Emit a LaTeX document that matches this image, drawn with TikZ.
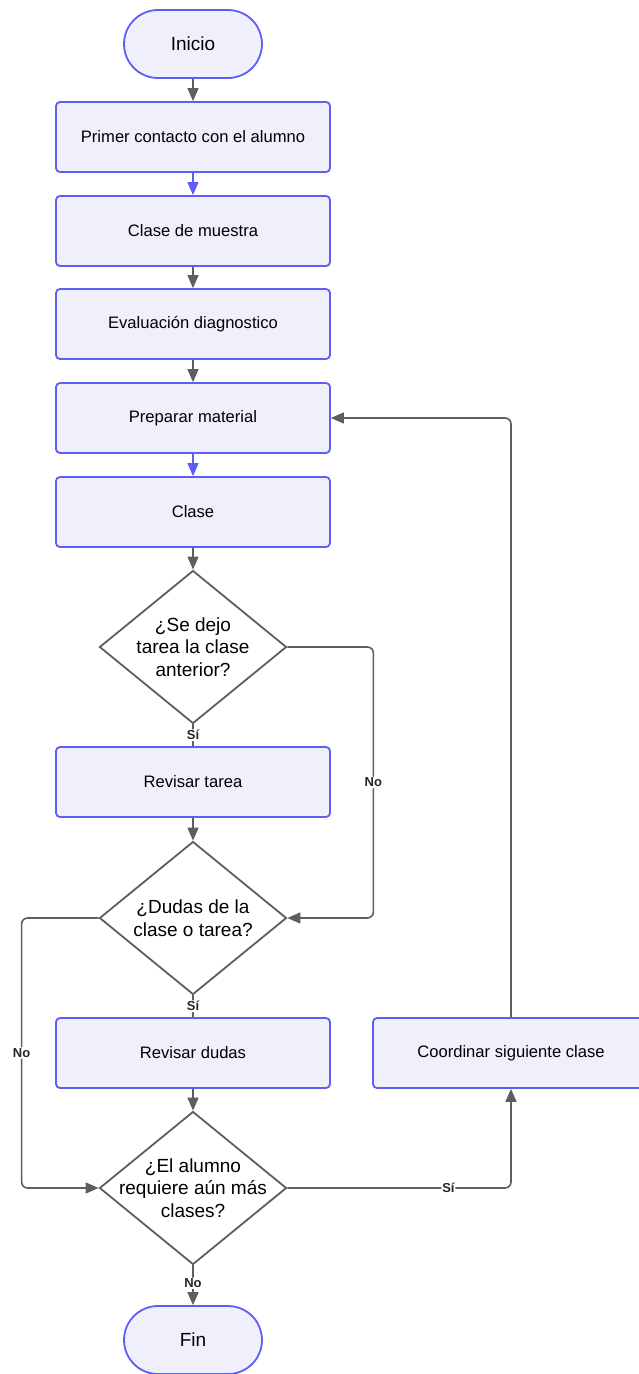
\documentclass[tikz,border=0pt]{standalone}
\usepackage{fontspec}
\setmainfont{Liberation Sans}
\usetikzlibrary{arrows.meta,shapes.geometric}
\definecolor{borde}{HTML}{5E5EF5}
\definecolor{relleno}{HTML}{F0F0FD}
\definecolor{linea}{HTML}{5E5E5E}
\tikzset{proceso/.style={rectangle,rounded corners=4pt,draw=borde,fill=relleno,line width=1.8pt,minimum width=274pt,minimum height=70pt,font=\fontsize{16.6}{20}\selectfont}}
\tikzset{termino/.style={rectangle,rounded corners=34pt,draw=borde,fill=relleno,line width=1.8pt,minimum width=138pt,minimum height=68pt,font=\fontsize{19}{22}\selectfont}}
\tikzset{decision/.style={diamond,draw=linea,fill=white,line width=1.8pt,minimum width=187pt,minimum height=153pt,inner sep=0pt}}
\tikzset{pregunta/.style={align=center,font=\fontsize{19}{22.5}\selectfont}}
\tikzset{flecha/.style={-{Triangle[length=13pt,width=11pt]},color=linea,line width=1.6pt,rounded corners=6pt}}
\tikzset{etiqueta/.style={fill=white,inner sep=1pt,font=\bfseries\fontsize{13}{15}\selectfont,text=black!85}}

\begin{document}
\begin{tikzpicture}[x=1pt,y=-1pt]
\useasboundingbox (0,0) rectangle (639,1374);
% \draw[help lines] (0,0) grid (639,1374);
\node (ini) [termino] at (193,44) {Inicio};
\node (cont) [proceso] at (193,137) {Primer contacto con el alumno};
\node (mues) [proceso] at (193,231) {Clase de muestra};
\node (eval) [proceso] at (193,324) {Evaluación diagnostico};
\node (prep) [proceso] at (193,418) {Preparar material};
\node (clase) [proceso] at (193,512) {Clase};
\node (tarea) [decision,label={[pregunta]center:¿Se dejo\\tarea la clase\\anterior?}] at (193,647) {};
\node (revt) [proceso] at (193,782) {Revisar tarea};
\node (dudas) [decision,label={[pregunta]center:¿Dudas de la\\clase o tarea?}] at (193,918) {};
\node (revd) [proceso] at (193,1053) {Revisar dudas};
\node (coord) [proceso,minimum width=276pt] at (511,1053) {Coordinar siguiente clase};
\node (mas) [decision,label={[pregunta]center:¿El alumno\\requiere aún más\\clases?}] at (193,1188) {};
\node (fin) [termino] at (193,1340) {Fin};
%
\path[flecha] (ini) edge (cont);
\path[flecha,color=borde] (cont) edge (mues);
\path[flecha] (mues) edge (eval);
\path[flecha] (eval) edge (prep);
\path[flecha,color=borde] (prep) edge (clase);
\path[flecha] (clase) edge (tarea);
\path[flecha,-] (tarea) edge node[etiqueta] {Sí} (revt);
\path[flecha] (revt) edge (dudas);
\path[flecha,-] (dudas) edge node[etiqueta] {Sí} (revd);
\path[flecha] (revd) edge (mas);
\path[flecha] (mas) edge node[etiqueta,pos=0.45] {No} (fin);
%
\draw[flecha] (tarea.east) -- ++(86,0) |- node[etiqueta,pos=0.25] {No} (dudas.east);
\draw[flecha] (dudas.west) -- ++(-77,0) |- node[etiqueta,pos=0.25] {No} (mas.west);
\draw[flecha] (mas.east) -| node[etiqueta,pos=0.36] {Sí} (coord.south);
\draw[flecha] (coord.north) |- (prep.east);
\end{tikzpicture}
\end{document}
